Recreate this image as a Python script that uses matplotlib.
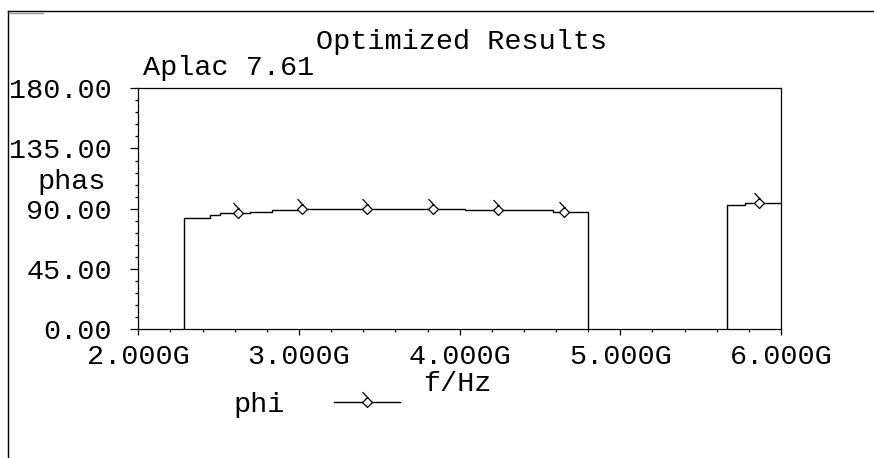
import matplotlib
matplotlib.use("Agg")
import matplotlib.pyplot as plt
from matplotlib.path import Path
from matplotlib.lines import Line2D
from matplotlib.ticker import MultipleLocator, FuncFormatter

# step trace of the optimized phase (GHz, degrees), two bands
freq_a = [2.287, 2.287, 2.446, 2.508, 2.695, 2.832, 3.019, 4.033, 4.581, 4.798, 4.798]
phase_a = [0.0, 82.8, 85.3, 86.5, 87.3, 88.8, 90.0, 89.0, 87.3, 87.3, 0.0]
freq_b = [5.661, 5.661, 5.775, 6.0]
phase_b = [0.0, 92.8, 94.0, 94.0]
# marker samples
freq_m = [2.620, 3.019, 3.423, 3.834, 4.238, 4.649, 5.862]
phase_m = [86.5, 90.0, 90.0, 90.0, 89.0, 87.3, 94.0]

W, H = 874, 458
fs = 20.5
font = "Liberation Mono"
plt.rcParams["font.family"] = [font, "DejaVu Sans Mono"]

# diamond with a little tail, like the aplac symbol
verts = [(0, 1), (1, 0), (0, -1), (-1, 0), (0, 1), (-1, 2.1), (0.2, 0.8)]
codes = [Path.MOVETO, Path.LINETO, Path.LINETO, Path.LINETO, Path.CLOSEPOLY,
         Path.MOVETO, Path.LINETO]
sym = Path(verts, codes)

fig = plt.figure(figsize=(W / 100, H / 100), dpi=100)
ax = fig.add_axes([138.3 / W, 1 - 329 / H, (781 - 138.3) / W, (329 - 88.3) / H])

ax.plot(freq_a, phase_a, color="black", lw=1.0, drawstyle="steps-post")
ax.plot(freq_b, phase_b, color="black", lw=1.0, drawstyle="steps-post")
ax.plot(freq_m, phase_m, ls="none", marker=sym, ms=15, mfc="white",
        mec="black", mew=0.9)

ax.set_xlim(2.0, 6.0)
ax.set_ylim(0, 180)
ax.xaxis.set_major_locator(MultipleLocator(1.0))
ax.xaxis.set_minor_locator(MultipleLocator(0.2))
ax.yaxis.set_major_locator(MultipleLocator(45))
ax.yaxis.set_minor_locator(MultipleLocator(9))
ax.xaxis.set_major_formatter(FuncFormatter(lambda v, p: f"{v:.3f}G"))
ax.yaxis.set_major_formatter(FuncFormatter(lambda v, p: f"{v:.2f}"))
ax.tick_params(axis="x", which="major", direction="out", length=4.5, width=0.9,
               pad=6, labelsize=fs)
ax.tick_params(axis="x", which="minor", direction="out", length=2.5, width=0.9)
ax.tick_params(axis="y", which="major", direction="out", length=6, width=0.9,
               pad=13, labelsize=fs)
ax.tick_params(axis="y", which="minor", direction="out", length=2.5, width=0.9)
for s in ax.spines.values():
    s.set_linewidth(0.9)

fig.text(462 / W, 1 - 42 / H, "Optimized Results", fontsize=fs,
         ha="center", va="center")
fig.text(143 / W, 1 - 68 / H, "Aplac 7.61", fontsize=fs, ha="left", va="center")
fig.text(72 / W, 1 - 182 / H, "phas", fontsize=fs, ha="center", va="center")
fig.text(457 / W, 1 - 384 / H, "f/Hz", fontsize=fs, ha="center", va="center")

h = Line2D([], [], color="black", lw=1.0, marker=sym, ms=15, mfc="white",
           mec="black", mew=0.9)
fig.legend([h], ["phi"], loc="center left", bbox_to_anchor=(233 / W, 1 - 405 / H),
           frameon=False, markerfirst=False, fontsize=fs, numpoints=1,
           handlelength=2.3, handletextpad=1.75, borderpad=0, borderaxespad=0)

# outer page border
fig.add_artist(Line2D([8 / W, 8 / W], [0, 1 - 11 / H], color="black", lw=1.0))
fig.add_artist(Line2D([8 / W, 1], [1 - 11 / H, 1 - 11 / H], color="black", lw=1.0))
fig.add_artist(Line2D([9 / W, 43 / W], [1 - 13 / H, 1 - 13 / H], color="#999999", lw=1.0))

fig.savefig("out.png", dpi=100)
